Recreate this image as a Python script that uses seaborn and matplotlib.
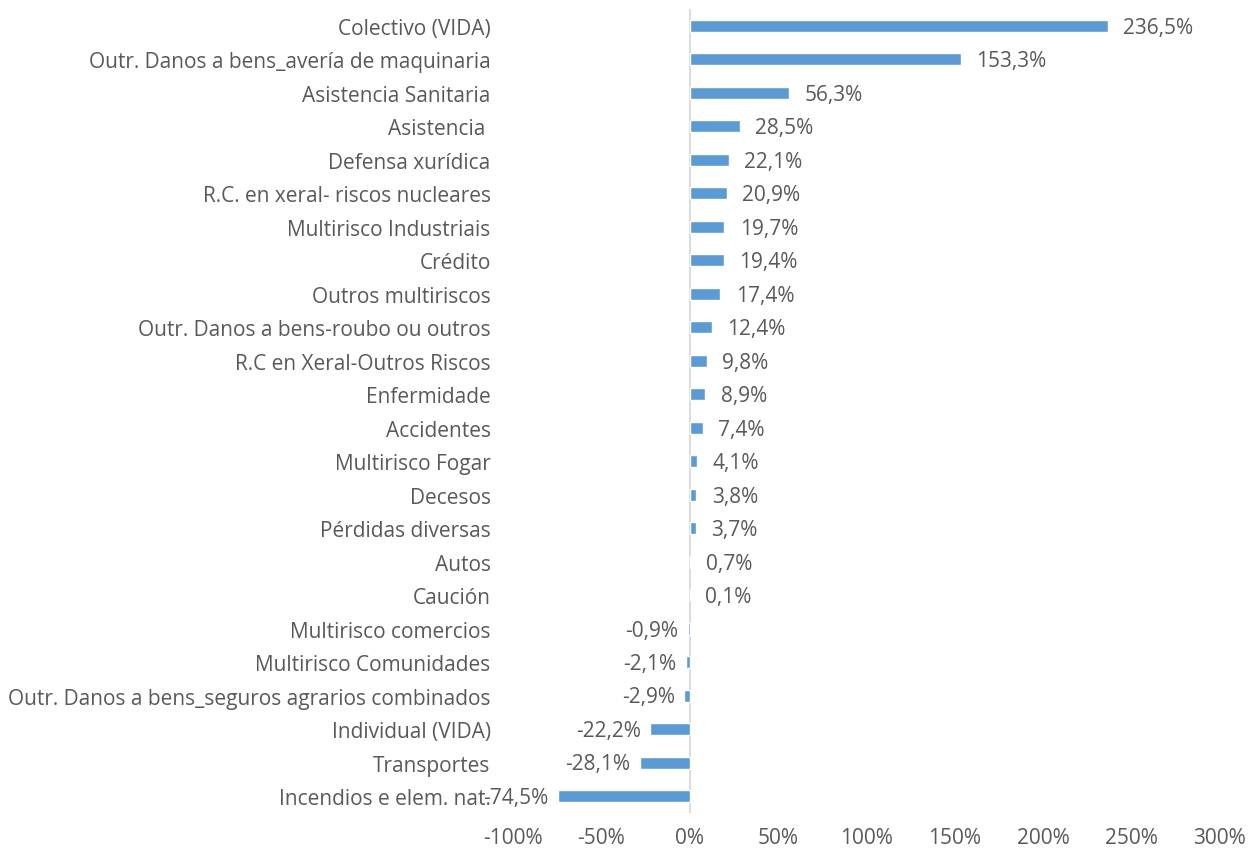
import matplotlib
matplotlib.use("Agg")
import matplotlib.pyplot as plt
import seaborn as sns
import pandas as pd

categorias = [
    "Colectivo (VIDA)",
    "Outr. Danos a bens_avería de maquinaria",
    "Asistencia Sanitaria",
    "Asistencia ",
    "Defensa xurídica",
    "R.C. en xeral- riscos nucleares",
    "Multirisco Industriais",
    "Crédito",
    "Outros multiriscos",
    "Outr. Danos a bens-roubo ou outros",
    "R.C en Xeral-Outros Riscos",
    "Enfermidade",
    "Accidentes",
    "Multirisco Fogar",
    "Decesos",
    "Pérdidas diversas",
    "Autos",
    "Caución",
    "Multirisco comercios",
    "Multirisco Comunidades",
    "Outr. Danos a bens_seguros agrarios combinados",
    "Individual (VIDA)",
    "Transportes",
    "Incendios e elem. nat.",
]
variacion = [236.5, 153.3, 56.3, 28.5, 22.1, 20.9, 19.7, 19.4, 17.4, 12.4,
             9.8, 8.9, 7.4, 4.1, 3.8, 3.7, 0.7, 0.1, -0.9, -2.1, -2.9,
             -22.2, -28.1, -74.5]
xticks = [-100, -50, 0, 50, 100, 150, 200, 250, 300]

df = pd.DataFrame({"ramo": categorias, "var": variacion})

sns.set_style("white")
plt.rcParams['font.family'] = ['Open Sans', 'DejaVu Sans']
gris = "#595959"
fs = 15

fig = plt.figure(figsize=(12.51, 8.53), dpi=100)
ax = fig.add_axes([0.410, 0.046, 0.565, 0.942])

sns.barplot(data=df, x="var", y="ramo", orient="h", color="#5B9BD5",
            saturation=1, width=0.36, ax=ax)

ax.set_xlim(-100, 300)
ax.set_xticks(xticks)
ax.set_xticklabels([f"{t}%" for t in xticks], fontsize=fs, color=gris)
ax.tick_params(axis="y", labelsize=fs, labelcolor=gris, length=0, pad=16)
ax.tick_params(axis="x", length=0, pad=10)
ax.set_xlabel("")
ax.set_ylabel("")
for s in ax.spines.values():
    s.set_visible(False)
ax.axvline(0, color="#D9D9D9", lw=1.3, zorder=0)

for i, v in enumerate(variacion):
    txt = f"{v:.1f}%".replace(".", ",")
    if v >= 0:
        ax.annotate(txt, (v, i), xytext=(11, -1), textcoords="offset points",
                    ha="left", va="center", fontsize=fs, color=gris)
    else:
        ax.annotate(txt, (v, i), xytext=(-7, -1), textcoords="offset points",
                    ha="right", va="center", fontsize=fs, color=gris)

fig.savefig("out.png", dpi=100)
